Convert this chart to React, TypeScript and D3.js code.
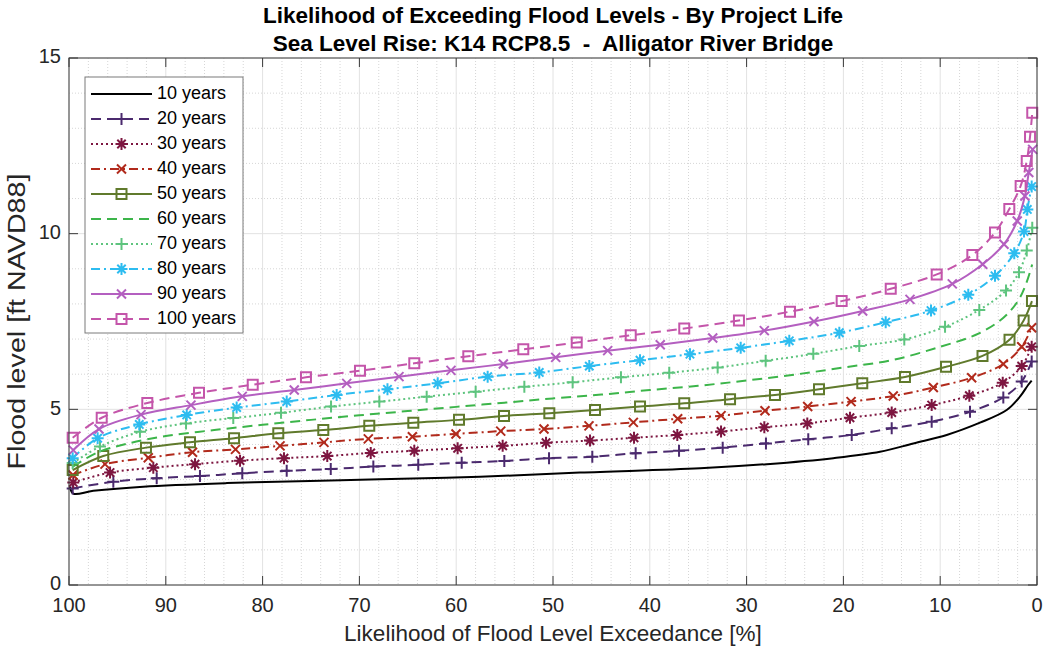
import React from "react";
import * as d3 from "d3";

// Exceedance likelihood [%] and flood level [ft NAVD88] for each project life
const yr10: [number, number][] = [[99.9,2.80],[99.56,2.60],[97.49,2.68],[92.32,2.80],[83.71,2.90],[75.10,2.96],[67.87,3.01],[57.54,3.08],[47.21,3.20],[34.81,3.32],[27.92,3.44],[21.04,3.61],[16.22,3.79],[12.78,4.03],[9.33,4.27],[5.89,4.62],[3.13,4.98],[1.76,5.36],[0.90,5.70],[0.55,5.82]];
const yr20: [number, number][] = [[99.62,2.75],[95.42,2.94],[90.94,3.04],[86.47,3.10],[82.10,3.18],[77.51,3.25],[72.96,3.30],[68.56,3.37],[63.92,3.42],[59.43,3.48],[55.03,3.53],[50.41,3.61],[45.94,3.65],[41.46,3.75],[36.98,3.82],[32.47,3.91],[28.00,4.03],[23.63,4.15],[19.14,4.27],[15.01,4.46],[10.88,4.65],[6.92,4.93],[3.48,5.34],[1.58,5.79],[0.55,6.36]];
const yr30: [number, number][] = [[99.56,2.92],[95.76,3.20],[91.29,3.34],[86.98,3.44],[82.33,3.54],[77.79,3.61],[73.32,3.67],[68.83,3.76],[64.33,3.82],[59.85,3.89],[55.20,3.96],[50.72,4.05],[46.18,4.11],[41.63,4.19],[37.16,4.27],[32.64,4.37],[28.17,4.49],[23.73,4.60],[19.32,4.76],[15.01,4.91],[10.88,5.12],[6.99,5.39],[3.54,5.76],[1.58,6.23],[0.55,6.78]];
const yr40: [number, number][] = [[99.59,3.13],[96.28,3.44],[91.81,3.62],[87.24,3.78],[82.80,3.86],[78.20,3.96],[73.66,4.06],[69.08,4.16],[64.53,4.22],[60.02,4.30],[55.40,4.38],[50.93,4.44],[46.28,4.53],[41.70,4.63],[37.12,4.73],[32.64,4.82],[28.10,4.96],[23.69,5.08],[19.21,5.22],[14.85,5.38],[10.71,5.62],[6.75,5.90],[3.48,6.29],[1.58,6.78],[0.55,7.32]];
const yr50: [number, number][] = [[99.62,3.27],[96.46,3.67],[92.05,3.91],[87.50,4.06],[82.95,4.18],[78.38,4.32],[73.73,4.41],[68.98,4.53],[64.43,4.62],[59.71,4.70],[55.06,4.81],[50.38,4.89],[45.66,4.98],[41.01,5.08],[36.44,5.17],[31.71,5.29],[27.07,5.41],[22.52,5.57],[18.05,5.74],[13.64,5.92],[9.40,6.21],[5.63,6.52],[2.84,6.98],[1.38,7.53],[0.52,8.08]];
const yr60: [number, number][] = [[99.6,3.37],[97,3.78],[94,4.02],[90,4.24],[85,4.41],[80,4.56],[75,4.70],[70,4.83],[65,4.95],[60,5.07],[55,5.19],[50,5.31],[45,5.42],[40,5.55],[35,5.67],[30,5.82],[25,5.99],[20,6.19],[15,6.40],[10,6.78],[6,7.16],[3.5,7.60],[2,8.07],[1.2,8.52],[0.5,9.12]];
const yr70: [number, number][] = [[99.62,3.47],[96.80,3.94],[92.67,4.36],[87.91,4.60],[83.03,4.75],[78.10,4.90],[72.93,5.08],[67.94,5.22],[63.05,5.36],[57.99,5.50],[52.96,5.64],[47.97,5.77],[42.98,5.91],[37.99,6.04],[32.99,6.19],[28.03,6.38],[23.11,6.58],[18.36,6.80],[13.71,6.99],[9.50,7.35],[5.96,7.83],[3.20,8.38],[1.86,8.90],[1.06,9.52],[0.49,10.17]];
const yr80: [number, number][] = [[99.62,3.61],[97.04,4.18],[92.74,4.57],[87.84,4.84],[82.68,5.05],[77.51,5.22],[72.35,5.41],[67.10,5.57],[61.91,5.74],[56.75,5.93],[51.42,6.05],[46.25,6.23],[41.01,6.40],[35.85,6.57],[30.61,6.75],[25.59,6.95],[20.42,7.18],[15.63,7.48],[10.95,7.81],[7.10,8.26],[4.34,8.80],[2.35,9.44],[1.34,10.06],[1.00,10.69],[0.55,11.34]];
const yr90: [number, number][] = [[99.56,3.84],[96.90,4.44],[92.56,4.85],[87.40,5.12],[82.10,5.37],[76.73,5.55],[71.31,5.74],[65.91,5.93],[60.54,6.11],[55.13,6.29],[49.72,6.48],[44.35,6.67],[38.92,6.84],[33.50,7.03],[28.17,7.24],[23.04,7.50],[18.01,7.80],[13.12,8.13],[8.75,8.57],[5.61,9.13],[3.41,9.70],[2.04,10.36],[1.25,11.07],[0.85,11.74],[0.45,12.40]];
const yr100: [number, number][] = [[99.62,4.19],[96.62,4.76],[91.91,5.18],[86.57,5.47],[81.02,5.70],[75.52,5.91],[69.94,6.10],[64.33,6.31],[58.75,6.51],[53.07,6.71],[47.55,6.90],[41.97,7.11],[36.44,7.30],[30.79,7.53],[25.52,7.78],[20.18,8.08],[15.11,8.43],[10.36,8.84],[6.68,9.39],[4.34,10.03],[2.86,10.70],[1.69,11.36],[1.06,12.07],[0.72,12.76],[0.49,13.44]];

const seriesNames = ["10 years", "20 years", "30 years", "40 years", "50 years", "60 years", "70 years", "80 years", "90 years", "100 years"];
const seriesData = [yr10, yr20, yr30, yr40, yr50, yr60, yr70, yr80, yr90, yr100];
const seriesColors = ["#000000", "#4b2a6e", "#7d1640", "#b12a1c", "#607a2c", "#3cb54a", "#5ec47e", "#2dbcf0", "#b45fc0", "#c455aa"];
const seriesDash = ["none", "10,6", "2,3", "9,4,2,4", "none", "10,6", "2,3", "9,4,2,4", "none", "10,6"];
const seriesMarker = ["", "plus", "asterisk", "cross", "square", "", "plus", "asterisk", "cross", "square"];

const xTicks = [100, 90, 80, 70, 60, 50, 40, 30, 20, 10, 0];
const yTicks = [0, 5, 10, 15];

const W = 1045;
const H = 653;
const M = { left: 69, right: 1037, top: 58, bottom: 585 };
const FONT = "'Liberation Sans', Arial, Helvetica, sans-serif";

function markerPath(kind: string): string {
  if (kind === "plus") return "M-6,0H6M0,-6V6";
  if (kind === "cross") return "M-4.5,-4.5L4.5,4.5M-4.5,4.5L4.5,-4.5";
  if (kind === "asterisk") return "M-6,0H6M0,-6V6M-4.2,-4.2L4.2,4.2M-4.2,4.2L4.2,-4.2";
  if (kind === "square") return "M-5,-5H5V5H-5Z";
  return "";
}

export default function App() {
  const x = d3.scaleLinear().domain([100, 0]).range([M.left, M.right]);
  const y = d3.scaleLinear().domain([0, 15]).range([M.bottom, M.top]);
  const line = d3
    .line<[number, number]>()
    .x((d) => x(d[0]))
    .y((d) => y(d[1]))
    .curve(d3.curveCatmullRom.alpha(0.5));

  const minorX = d3.range(0, 101, 2).filter((v) => v % 10 !== 0);
  const minorY = d3.range(0, 16, 1).filter((v) => v % 5 !== 0);
  const tickLen = 9;

  const legendX = 85;
  const legendY = 77;
  const legendW = 158;
  const legendRow = 25;

  return (
    <svg width={W} height={H} style={{ position: "absolute", left: 0, top: 0, background: "#fff" }} fontFamily={FONT}>
      <rect x={0} y={0} width={W} height={H} fill="#fff" />
      {/* grid */}
      <g>
        {minorX.map((v) => (
          <line key={"mx" + v} x1={x(v)} x2={x(v)} y1={M.top} y2={M.bottom} stroke="#d6d6d6" strokeWidth={1} strokeDasharray="1,2" />
        ))}
        {minorY.map((v) => (
          <line key={"my" + v} x1={M.left} x2={M.right} y1={y(v)} y2={y(v)} stroke="#d6d6d6" strokeWidth={1} strokeDasharray="1,2" />
        ))}
        {xTicks.map((v) => (
          <line key={"gx" + v} x1={x(v)} x2={x(v)} y1={M.top} y2={M.bottom} stroke="#e2e2e2" strokeWidth={1} />
        ))}
        {yTicks.map((v) => (
          <line key={"gy" + v} x1={M.left} x2={M.right} y1={y(v)} y2={y(v)} stroke="#e2e2e2" strokeWidth={1} />
        ))}
      </g>
      {/* series */}
      <g>
        {seriesData.map((data, i) => (
          <g key={seriesNames[i]}>
            <path d={line(data) || ""} fill="none" stroke={seriesColors[i]} strokeWidth={2} strokeDasharray={seriesDash[i]} />
            {seriesMarker[i] &&
              data.map((d, j) => (
                <path
                  key={j}
                  d={markerPath(seriesMarker[i])}
                  transform={`translate(${x(d[0])},${y(d[1])})`}
                  fill="none"
                  stroke={seriesColors[i]}
                  strokeWidth={2}
                />
              ))}
          </g>
        ))}
      </g>
      {/* axes box and ticks */}
      <rect x={M.left} y={M.top} width={M.right - M.left} height={M.bottom - M.top} fill="none" stroke="#3a3a3a" strokeWidth={1} />
      {xTicks.map((v) => (
        <g key={"tx" + v}>
          <line x1={x(v)} x2={x(v)} y1={M.bottom} y2={M.bottom - tickLen} stroke="#3a3a3a" />
          <line x1={x(v)} x2={x(v)} y1={M.top} y2={M.top + tickLen} stroke="#3a3a3a" />
          <text x={x(v)} y={M.bottom + 22} textAnchor="middle" dominantBaseline="middle" fontSize={20} fill="#262626">
            {v}
          </text>
        </g>
      ))}
      {yTicks.map((v) => (
        <g key={"ty" + v}>
          <line x1={M.left} x2={M.left + tickLen} y1={y(v)} y2={y(v)} stroke="#3a3a3a" />
          <line x1={M.right} x2={M.right - tickLen} y1={y(v)} y2={y(v)} stroke="#3a3a3a" />
          <text x={M.left - 8} y={y(v)} textAnchor="end" dominantBaseline="middle" fontSize={20} fill="#262626">
            {v}
          </text>
        </g>
      ))}
      {/* axis titles */}
      <text x={(M.left + M.right) / 2} y={635} textAnchor="middle" dominantBaseline="middle" fontSize={22.5} fill="#262626">
        Likelihood of Flood Level Exceedance [%]
      </text>
      <text
        transform={`translate(19,${(M.top + M.bottom) / 2}) rotate(-90)`}
        textAnchor="middle"
        dominantBaseline="middle"
        fontSize={23}
        fill="#262626"
        textLength={296}
        lengthAdjust="spacingAndGlyphs"
      >
        Flood level [ft NAVD88]
      </text>
      {/* title */}
      <text x={(M.left + M.right) / 2} y={17} textAnchor="middle" dominantBaseline="middle" fontSize={22.5} fontWeight="bold" fill="#000">
        Likelihood of Exceeding Flood Levels - By Project Life
      </text>
      <text x={(M.left + M.right) / 2} y={45} textAnchor="middle" dominantBaseline="middle" fontSize={22.5} fontWeight="bold" fill="#000" style={{ whiteSpace: "pre" }}>
        {"Sea Level Rise: K14 RCP8.5  -  Alligator River Bridge"}
      </text>
      {/* legend */}
      <g>
        <rect x={legendX} y={legendY} width={legendW} height={legendRow * seriesNames.length + 6} fill="#fff" stroke="#7a7a7a" strokeWidth={1} />
        {seriesNames.map((name, i) => {
          const cy = legendY + 17 + i * legendRow;
          return (
            <g key={"lg" + name}>
              <line x1={91} x2={152} y1={cy} y2={cy} stroke={seriesColors[i]} strokeWidth={2} strokeDasharray={seriesDash[i]} />
              {seriesMarker[i] && (
                <path d={markerPath(seriesMarker[i])} transform={`translate(121.5,${cy})`} fill="none" stroke={seriesColors[i]} strokeWidth={2} />
              )}
              <text x={157} y={cy} dominantBaseline="middle" fontSize={18} fill="#000">
                {name}
              </text>
            </g>
          );
        })}
      </g>
    </svg>
  );
}
